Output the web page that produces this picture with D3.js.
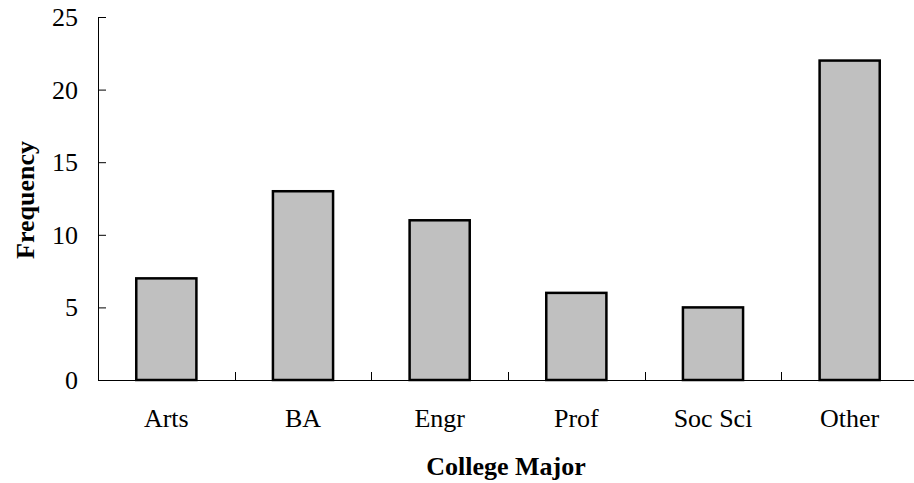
<!DOCTYPE html>
<html>
<head>
<meta charset="utf-8">
<script src="https://cdn.jsdelivr.net/npm/d3@7"></script>
<style>
  body { margin: 0; background: #fff; }
  svg text { font-family: "Liberation Serif", "Times New Roman", serif; fill: #000; }
</style>
</head>
<body>
<div id="chart"></div>
<script>
// chart data
var majors = ["Arts", "BA", "Engr", "Prof", "Soc Sci", "Other"];
var frequency = [7, 13, 11, 6, 5, 22];
var yTicks = [0, 5, 10, 15, 20, 25];

var width = 914, height = 483;
var margin = { left: 98, right: -4, top: 17, bottom: 103 };

var svg = d3.select("#chart").append("svg")
  .attr("width", width)
  .attr("height", height);

var x = d3.scaleBand()
  .domain(majors)
  .range([margin.left, width - margin.right])
  .paddingInner(0.56)
  .paddingOuter(0.28);

var y = d3.scaleLinear()
  .domain([0, 25])
  .range([height - margin.bottom, margin.top]);

// bars
svg.append("g").selectAll("rect")
  .data(majors)
  .enter().append("rect")
  .attr("x", function(d) { return x(d); })
  .attr("y", function(d, i) { return y(frequency[i]); })
  .attr("width", x.bandwidth())
  .attr("height", function(d, i) { return y(0) - y(frequency[i]); })
  .style("fill", "#c0c0c0")
  .style("stroke", "#000")
  .style("stroke-width", 2.5);

// y axis, ticks pointing inward
var yAxis = svg.append("g")
  .attr("transform", "translate(" + margin.left + ",0)")
  .call(d3.axisRight(y).tickValues(yTicks).tickSize(8).tickFormat(""));
yAxis.select(".domain").attr("d", "M0.5," + y(25) + "V" + y(0));
yAxis.selectAll(".tick line").attr("x1", 0.5);

svg.append("g").selectAll("text")
  .data(yTicks)
  .enter().append("text")
  .attr("x", 78)
  .attr("y", function(d) { return y(d) + 9; })
  .attr("text-anchor", "end")
  .style("font-size", "26px")
  .text(function(d) { return d; });

// x axis, category boundary ticks
var step = x.step();
var xAxis = svg.append("g");
xAxis.append("line")
  .attr("x1", margin.left)
  .attr("x2", width)
  .attr("y1", y(0) + 0.5)
  .attr("y2", y(0) + 0.5)
  .style("stroke", "#000");
xAxis.selectAll(".bound")
  .data(majors.slice(1))
  .enter().append("line")
  .attr("class", "bound")
  .attr("x1", function(d) { return Math.round(x(d) - (step - x.bandwidth()) / 2) + 0.5; })
  .attr("x2", function(d) { return Math.round(x(d) - (step - x.bandwidth()) / 2) + 0.5; })
  .attr("y1", y(0))
  .attr("y2", y(0) - 8)
  .style("stroke", "#000");

svg.append("g").selectAll("text")
  .data(majors)
  .enter().append("text")
  .attr("x", function(d) { return x(d) + x.bandwidth() / 2; })
  .attr("y", 427)
  .attr("text-anchor", "middle")
  .style("font-size", "26px")
  .text(function(d) { return d; });

// axis titles
svg.append("text")
  .attr("x", 506)
  .attr("y", 475)
  .attr("text-anchor", "middle")
  .style("font-size", "26px")
  .style("font-weight", "bold")
  .text("College Major");

svg.append("text")
  .attr("transform", "translate(34,200) rotate(-90)")
  .attr("text-anchor", "middle")
  .style("font-size", "26px")
  .style("font-weight", "bold")
  .text("Frequency");
</script>
</body>
</html>
